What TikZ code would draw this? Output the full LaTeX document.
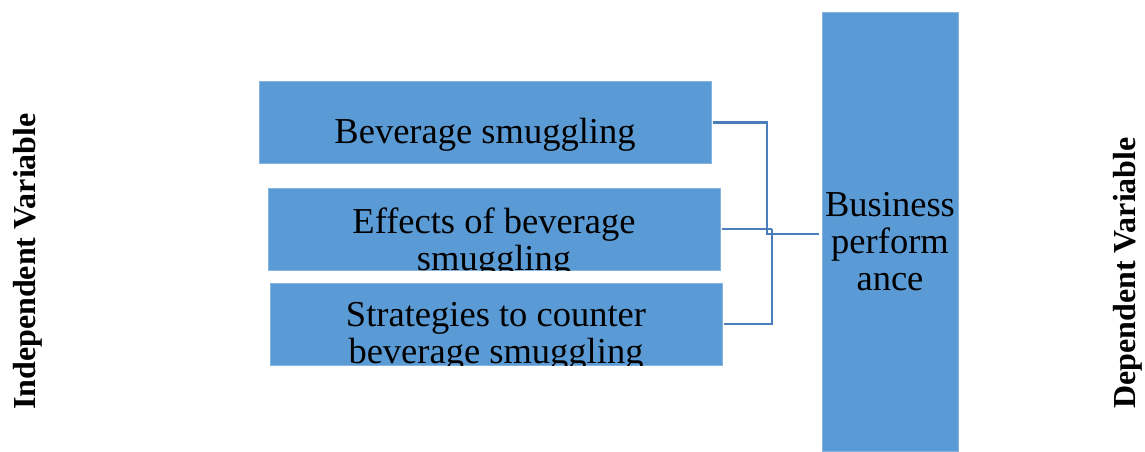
\documentclass[tikz,border=0pt]{standalone}
\usepackage{fontspec}
\setmainfont{Liberation Serif}

\definecolor{boxblue}{HTML}{5B9BD5}
\definecolor{linkblue}{HTML}{4A7EBB}

\tikzset{
  varbox/.style={fill=boxblue, draw=boxblue!75!white, line width=0.8pt, inner sep=0pt,
    minimum width=452pt, minimum height=82pt},
  boxtext/.style={anchor=north, inner sep=0pt, align=center,
    font=\fontsize{36.5}{37}\selectfont},
  link/.style={draw=linkblue, line width=2.6pt},
  sidelabel/.style={rotate=90, inner sep=0pt, font=\fontsize{32}{36}\selectfont\bfseries}
}

\begin{document}
\begin{tikzpicture}[x=1pt, y=-1pt]

\useasboundingbox (0,0) rectangle (1145,452);

\def \gap {2pt}

% input boxes, text cut off by the box
\foreach \name/\cx/\cy/\top/\txt in {bev/485/122.5/118/{Beverage smuggling},
  eff/494/229/208/{Effects of beverage\\smuggling},
  strat/496/324/302.5/{Strategies to counter\\beverage smuggling}}
{
  \node (\name) [varbox] at (\cx,\cy) {};
  \begin{scope}
    \clip (\name.south west) rectangle (\name.north east);
    \node (\name-text) [boxtext] at (\cx,\top) {\txt};
  \end{scope}
}

\node (perf) [varbox, minimum width=136pt, minimum height=439pt] at (890,231.5) {};
\node (perf-text) [boxtext, text width=136pt] at (890,192) {Business\\perform\\ance};

\node (indep) [sidelabel] at (28,261.5) {Independent Variable};
\node (dep) [sidelabel] at (1128,273) {Dependent Variable};

\coordinate (jointA) at (767,234);
\coordinate (jointB) at (772,229);

\draw[link] ([xshift=\gap]bev.east) -| (jointA) -- ([xshift=-3pt]jointA -| perf.west);
\draw[link] ([xshift=\gap]eff.east) -- (jointB);
\draw[link] ([xshift=\gap]strat.east) -| (jointB);

\end{tikzpicture}
\end{document}
